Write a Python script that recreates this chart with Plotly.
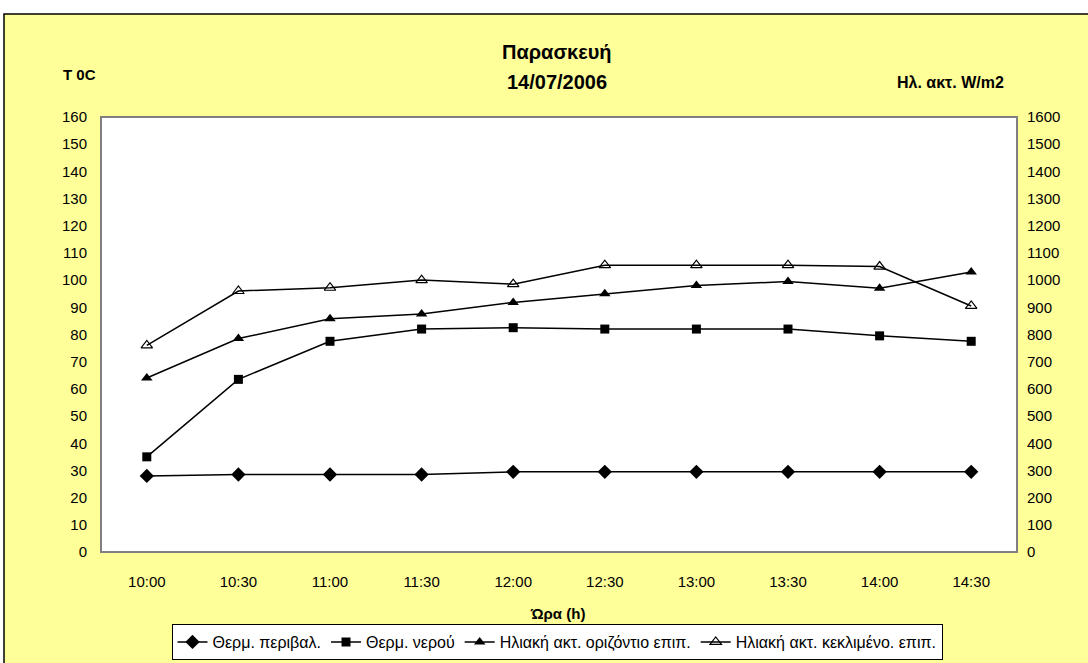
import plotly.graph_objects as go

# Time of measurement
times = ["10:00", "10:30", "11:00", "11:30", "12:00", "12:30", "13:00", "13:30", "14:00", "14:30"]

# Temperatures (°C) – left axis
temp_ambient = [28, 28.5, 28.5, 28.5, 29.5, 29.5, 29.5, 29.5, 29.5, 29.5]
temp_water = [35, 63.5, 77.5, 82, 82.5, 82, 82, 82, 79.5, 77.5]

# Solar radiation (W/m2) – right axis
rad_horizontal = [640, 785, 858, 875, 918, 950, 980, 995, 970, 1030]
rad_inclined = [760, 960, 972, 1000, 985, 1055, 1055, 1055, 1050, 905]

FONT = "Liberation Sans, Arial, sans-serif"
BLACK = "#000000"

fig = go.Figure()

fig.add_trace(go.Scatter(
    x=times, y=temp_ambient, name="Θερμ. περιβαλ.", mode="lines+markers",
    line=dict(color=BLACK, width=1.5),
    marker=dict(symbol="diamond", size=11, color=BLACK),
))
fig.add_trace(go.Scatter(
    x=times, y=temp_water, name="Θερμ. νερού", mode="lines+markers",
    line=dict(color=BLACK, width=1.5),
    marker=dict(symbol="square", size=9, color=BLACK),
))
fig.add_trace(go.Scatter(
    x=times, y=rad_horizontal, name="Ηλιακή ακτ. οριζόντιο επιπ.", mode="lines+markers",
    yaxis="y2", line=dict(color=BLACK, width=1.5),
    marker=dict(symbol="triangle-up", size=10, color=BLACK),
))
fig.add_trace(go.Scatter(
    x=times, y=rad_inclined, name="Ηλιακή ακτ. κεκλιμένο. επιπ.", mode="lines+markers",
    yaxis="y2", line=dict(color=BLACK, width=1.5),
    marker=dict(symbol="triangle-up-open", size=10, color=BLACK, line=dict(width=1.2, color=BLACK)),
))

# Plot-area geometry in pixels
W, H = 1088, 663
L, R, T, B = 101, 71, 117, 111
pw, ph = W - L - R, H - T - B

def px_x(x):
    return (x - L) / pw

def px_y(y):
    return (H - B - y) / ph

shapes = [
    # yellow chart area with black frame
    dict(type="rect", xref="paper", yref="paper", layer="below",
         x0=px_x(4), x1=px_x(1095), y0=px_y(670), y1=px_y(14),
         fillcolor="#FFFF99", line=dict(color=BLACK, width=1.5)),
    # white plot area with grey frame
    dict(type="rect", xref="paper", yref="paper", layer="below",
         x0=0, x1=1, y0=0, y1=1,
         fillcolor="#FFFFFF", line=dict(color="#808080", width=2)),
]

def label(text, x, y, size):
    return dict(text=text, xref="paper", yref="paper", x=px_x(x), y=px_y(y),
                xanchor="center", yanchor="middle", showarrow=False,
                font=dict(size=size, family=FONT, color=BLACK))

annotations = [
    label("<b>Παρασκευή</b>", 557, 52, 20),
    label("<b>14/07/2006</b>", 557, 82, 20),
    label("<b>T 0C</b>", 79, 74, 15),
    label("<b>Ηλ. ακτ. W/m2</b>", 950, 82, 16),
    label("<b>Ώρα (h)</b>", 557, 613, 15),
]

fig.update_layout(
    width=W, height=H,
    margin=dict(l=L, r=R, t=T, b=B, autoexpand=False),
    paper_bgcolor="#FFFFFF",
    plot_bgcolor="#FFFFFF",
    font=dict(family=FONT, size=15, color=BLACK),
    shapes=shapes,
    annotations=annotations,
    showlegend=True,
    legend=dict(
        orientation="h", x=px_x(557), xanchor="center", y=px_y(624), yanchor="top",
        bgcolor="#FFFFFF", bordercolor=BLACK, borderwidth=1,
        font=dict(size=16, family=FONT, color=BLACK),
        itemwidth=30, tracegroupgap=0,
    ),
    xaxis=dict(
        type="category", range=[-0.5, len(times) - 0.5],
        showgrid=False, zeroline=False, showline=False,
        ticks="outside", ticklen=16, tickcolor="rgba(0,0,0,0)",
        tickfont=dict(size=15, family=FONT, color=BLACK),
    ),
    yaxis=dict(
        range=[0, 160], dtick=10, showgrid=False, zeroline=False, showline=False,
        ticks="outside", ticklen=10, tickcolor="rgba(0,0,0,0)",
        tickfont=dict(size=15, family=FONT, color=BLACK),
    ),
    yaxis2=dict(
        range=[0, 1600], dtick=100, overlaying="y", side="right",
        showgrid=False, zeroline=False, showline=False,
        ticks="outside", ticklen=6, tickcolor="rgba(0,0,0,0)",
        tickfont=dict(size=15, family=FONT, color=BLACK),
    ),
)

fig.write_html("out.html")
